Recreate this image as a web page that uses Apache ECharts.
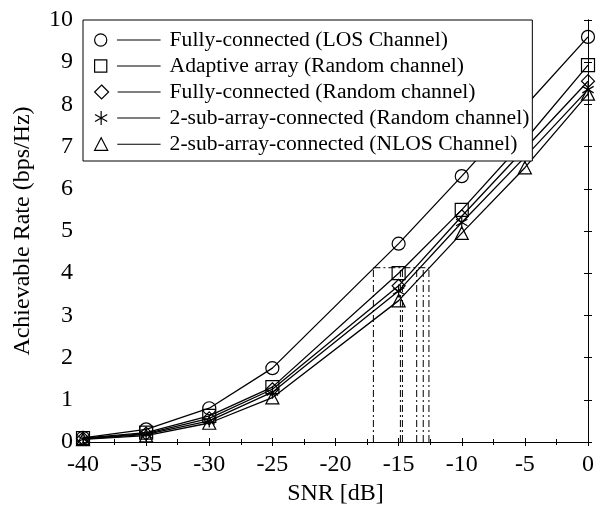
<!DOCTYPE html>
<html><head><meta charset="utf-8">
<script src="https://cdn.jsdelivr.net/npm/echarts@6/dist/echarts.min.js"></script>
<style>html,body{margin:0;padding:0;background:#fff}#c{width:597px;height:512px}</style>
</head><body><div id="c"></div>
<script>
const snr = [-40, -35, -30, -25, -15, -10, -5, 0];
const seriesNames = [
  'Fully-connected (LOS Channel)',
  'Adaptive array (Random channel)',
  'Fully-connected (Random channel)',
  '2-sub-array-connected (Random channel)',
  '2-sub-array-connected (NLOS Channel)'
];
const losFull   = [0.10, 0.30, 0.80, 1.75, 4.70, 6.30, 7.95, 9.60];
const adaptive  = [0.09, 0.22, 0.62, 1.30, 4.00, 5.50, 7.15, 8.93];
const randFull  = [0.08, 0.20, 0.56, 1.25, 3.70, 5.35, 6.95, 8.55];
const sub2Rand  = [0.07, 0.18, 0.50, 1.18, 3.58, 5.20, 6.75, 8.35];
const sub2Nlos  = [0.06, 0.15, 0.45, 1.05, 3.35, 4.95, 6.50, 8.25];
const crossX = [-17.0, -14.86, -14.70, -13.57, -13.05, -12.6];
const crossRate = 4.13;

const F = 'Liberation Serif';
const shapes = [
  'path://M1,7 A6,6 0 1,1 13,7 A6,6 0 1,1 1,7 Z',
  'path://M1,1 L13,1 L13,13 L1,13 Z',
  'path://M7,0 L14,7 L7,14 L0,7 Z',
  'path://M7,0 L7,14 M0.9,3.5 L13.1,10.5 M0.9,10.5 L13.1,3.5',
  'path://M7,0.5 L13.5,13 L0.5,13 Z'
];
const legendIcons = [
  'path://M1,7 A6,6 0 1,1 13,7 A6,6 0 1,1 1,7 Z M23,7 L66,7',
  'path://M1,1 L13,1 L13,13 L1,13 Z M23,7 L66,7',
  'path://M7,0 L14,7 L7,14 L0,7 Z M23,7 L66,7',
  'path://M7,0 L7,14 M0.9,3.5 L13.1,10.5 M0.9,10.5 L13.1,3.5 M23,7 L66,7',
  'path://M7,0.5 L13.5,13 L0.5,13 Z M23,7 L66,7'
];
const allVals = [losFull, adaptive, randFull, sub2Rand, sub2Nlos];

const series = allVals.map((vals, i) => ({
  name: seriesNames[i],
  type: 'line',
  data: snr.map((x, j) => [x, vals[j]]),
  symbol: shapes[i],
  symbolSize: 13,
  symbolKeepAspect: true,
  lineStyle: {color: '#000', width: 1.3},
  itemStyle: {color: 'rgba(0,0,0,0)', borderColor: '#000', borderWidth: 1.2},
  z: 3,
  animation: false
}));
const dashStyle = {color: '#000', width: 1, type: [7, 3, 2, 3]};
crossX.forEach(x => {
  series.push({type: 'line', data: [[x, 0], [x, crossRate]], symbol: 'none',
    lineStyle: dashStyle, silent: true, animation: false, z: 2});
});
series.push({type: 'line', data: [[crossX[0], crossRate], [crossX[crossX.length - 1], crossRate]],
  symbol: 'none', lineStyle: dashStyle, silent: true, animation: false, z: 2});

const axisCommon = {
  axisLine: {show: true, lineStyle: {color: '#000', width: 1}},
  axisTick: {show: true, inside: true, length: 4, lineStyle: {color: '#000'}},
  splitLine: {show: false}
};
const chart = echarts.init(document.getElementById('c'));
chart.setOption({
  backgroundColor: '#fff',
  animation: false,
  grid: {left: 83, right: 6, top: 20, bottom: 70},
  legend: {
    orient: 'vertical', left: 83, top: 20,
    data: seriesNames.map((n, i) => ({name: n, icon: legendIcons[i]})),
    itemWidth: 66, itemHeight: 14, itemGap: 4,
    padding: [9, 3, 6, 11],
    backgroundColor: '#fff', borderColor: '#000', borderWidth: 1,
    itemStyle: {color: 'rgba(0,0,0,0)', borderColor: '#000', borderWidth: 1.2},
    textStyle: {fontFamily: F, fontSize: 21.6, lineHeight: 22, color: '#000', padding: [0, 0, 0, 4]},
    selectedMode: false
  },
  xAxis: [
    Object.assign({type: 'value', min: -40, max: 0, interval: 5, position: 'bottom',
      name: 'SNR [dB]', nameLocation: 'middle', nameGap: 39,
      nameTextStyle: {fontFamily: F, fontSize: 24, color: '#000'},
      axisLabel: {fontFamily: F, fontSize: 24, color: '#000', margin: 11},
      minorTick: {show: true, splitNumber: 2, length: 3, lineStyle: {color: '#000'}}
    }, axisCommon),
    Object.assign({type: 'value', min: -40, max: 0, interval: 5, position: 'top',
      axisLabel: {show: false},
      minorTick: {show: true, splitNumber: 2, length: 3, lineStyle: {color: '#000'}}
    }, axisCommon)
  ],
  yAxis: [
    Object.assign({type: 'value', min: 0, max: 10, interval: 1, position: 'left',
      name: 'Achievable Rate (bps/Hz)', nameLocation: 'middle', nameGap: 48,
      nameTextStyle: {fontFamily: F, fontSize: 24, color: '#000'},
      axisLabel: {fontFamily: F, fontSize: 24, color: '#000', margin: 10}
    }, axisCommon),
    Object.assign({type: 'value', min: 0, max: 10, interval: 1, position: 'right',
      axisLabel: {show: false}
    }, axisCommon)
  ],
  series: series
});
</script></body></html>
